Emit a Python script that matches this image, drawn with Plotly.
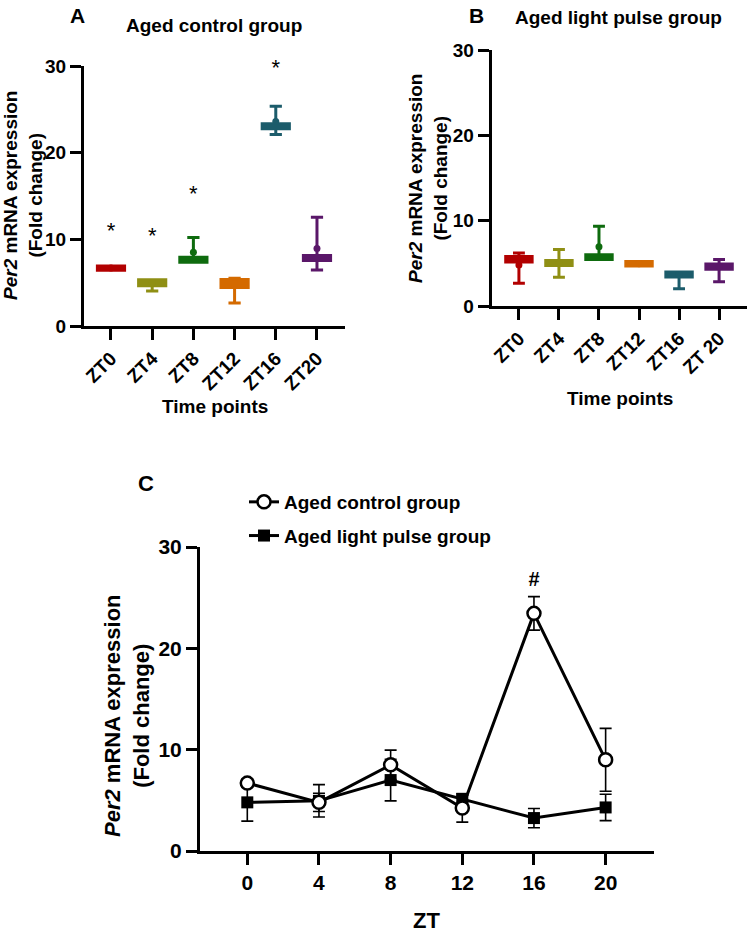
import plotly.graph_objects as go

W, H = 748, 934
FONT = "Arial, Liberation Sans, sans-serif"

# ---------------- data ----------------
colors = ["#B20000", "#8F8F14", "#0E6B0E", "#D46A00", "#1C5C6B", "#5A1769"]

# Panel A: Aged control group (box & whiskers)
a_cats = ["ZT0", "ZT4", "ZT8", "ZT12", "ZT16", "ZT20"]
a_lower = [6.43, 4.04, 7.37, 2.65, 22.1, 6.45]
a_q1 = [6.43, 4.63, 7.37, 4.44, 22.77, 7.57]
a_median = [6.7, 5.0, 7.65, 4.9, 23.05, 7.85]
a_q3 = [6.93, 5.33, 7.93, 5.37, 23.33, 8.13]
a_upper = [6.93, 5.33, 10.2, 5.5, 25.35, 12.55]
a_mean = [6.7, 5.0, 8.5, 4.9, 23.6, 8.95]
a_star_y = [10.8, 10.2, 15.1, None, 29.6, None]

# Panel B: Aged light pulse group
b_cats = ["ZT0", "ZT4", "ZT8", "ZT12", "ZT16", "ZT 20"]
b_lower = [2.66, 3.36, 5.44, 4.7, 2.03, 2.85]
b_q1 = [5.17, 4.74, 5.44, 4.7, 3.41, 4.31]
b_median = [5.5, 5.0, 5.7, 4.95, 3.7, 4.6]
b_q3 = [5.81, 5.33, 6.0, 5.22, 3.97, 4.91]
b_upper = [6.2, 6.63, 9.35, 5.22, 3.97, 5.45]
b_mean = [4.8, 5.0, 6.95, 4.95, 3.7, 4.6]

# Panel C: mean +/- error
zt = [0, 4, 8, 12, 16, 20]
ctrl_mean = [6.7, 4.8, 8.5, 4.25, 23.45, 9.0]
ctrl_err = [0.4, 0.9, 1.45, 1.4, 1.65, 3.1]
light_mean = [4.8, 4.95, 7.0, 5.15, 3.25, 4.3]
light_err = [1.85, 1.6, 2.05, 0.35, 0.95, 1.3]
hash_y = [None, None, None, None, 26.6, None]

fig = go.Figure()

def add_boxes(cats, lo, q1, med, q3, up, mean, xa, ya):
    for i, c in enumerate(cats):
        fig.add_trace(go.Box(
            x=[c], q1=[q1[i]], median=[med[i]], q3=[q3[i]],
            lowerfence=[lo[i]], upperfence=[up[i]],
            width=0.66, whiskerwidth=0.45,
            line=dict(color=colors[i], width=3), fillcolor=colors[i],
            boxpoints=False, showlegend=False, xaxis=xa, yaxis=ya,
        ))
    fig.add_trace(go.Scatter(
        x=cats, y=mean, mode="markers",
        marker=dict(color=colors, size=7, symbol="circle"),
        showlegend=False, xaxis=xa, yaxis=ya, cliponaxis=False,
    ))

add_boxes(a_cats, a_lower, a_q1, a_median, a_q3, a_upper, a_mean, "x", "y")
add_boxes(b_cats, b_lower, b_q1, b_median, b_q3, b_upper, b_mean, "x2", "y2")

fig.add_trace(go.Scatter(
    x=a_cats, y=a_star_y, mode="text", text=["*"] * 6,
    textfont=dict(family=FONT, size=22, color="black"),
    showlegend=False, xaxis="x", yaxis="y", cliponaxis=False,
))

# Panel C
fig.add_trace(go.Scatter(
    x=zt, y=light_mean, mode="lines+markers", name="Aged light pulse group",
    legendgroup="b", legendrank=2,
    line=dict(color="black", width=3),
    marker=dict(symbol="square", size=12, color="black"),
    error_y=dict(type="data", array=light_err, color="black", thickness=1.6, width=6),
    xaxis="x3", yaxis="y3", cliponaxis=False,
))
fig.add_trace(go.Scatter(
    x=zt, y=ctrl_mean, mode="lines+markers", name="Aged control group",
    legendgroup="a", legendrank=1,
    line=dict(color="black", width=3),
    marker=dict(symbol="circle", size=13, color="white",
                line=dict(color="black", width=2.5)),
    error_y=dict(type="data", array=ctrl_err, color="black", thickness=1.6, width=6),
    xaxis="x3", yaxis="y3", cliponaxis=False,
))
fig.add_trace(go.Scatter(
    x=zt, y=hash_y, mode="text", text=["#"] * 6,
    textfont=dict(family=FONT, size=20, color="black", weight="bold"),
    showlegend=False, xaxis="x3", yaxis="y3", cliponaxis=False,
))

def px(x):
    return x / W

def py(y):
    return 1 - y / H

axis_common = dict(showline=True, linewidth=3, linecolor="black", ticks="outside",
                   tickwidth=3, ticklen=11, tickcolor="black", showgrid=False,
                   zeroline=False, mirror=False, automargin=False)
tick_ab = dict(family=FONT, size=19, color="black", weight="bold")
tick_c = dict(family=FONT, size=21, color="black", weight="bold")

fig.update_layout(
    template="none",
    width=W, height=H, margin=dict(l=0, r=0, t=0, b=0, pad=0, autoexpand=False),
    paper_bgcolor="white", plot_bgcolor="white",
    boxmode="overlay",
    font=dict(family=FONT, color="black"),
    xaxis=dict(axis_common, domain=[px(84), px(345)], anchor="y", type="category",
               categoryorder="array", categoryarray=a_cats, range=[-0.655, 5.68],
               tickangle=-45, tickfont=tick_ab),
    yaxis=dict(axis_common, domain=[py(326), py(66)], anchor="x", range=[0, 30],
               tickvals=[0, 10, 20, 30], tickfont=tick_ab),
    xaxis2=dict(axis_common, domain=[px(491.7), px(746.7)], anchor="y2", type="category",
                categoryorder="array", categoryarray=b_cats, range=[-0.68, 5.69],
                tickangle=-45, tickfont=tick_ab),
    yaxis2=dict(axis_common, domain=[py(306), py(50)], anchor="x2", range=[0, 30],
                tickvals=[0, 10, 20, 30], tickfont=tick_ab),
    xaxis3=dict(axis_common, domain=[px(200), px(654)], anchor="y3", range=[-2.64, 22.7],
                tickvals=zt, tickfont=tick_c),
    yaxis3=dict(axis_common, domain=[py(851), py(547)], anchor="x3", range=[0, 30],
                tickvals=[0, 10, 20, 30], tickfont=tick_c),
    legend=dict(x=px(244), y=py(483), xanchor="left", yanchor="top",
                traceorder="grouped", tracegroupgap=6,
                font=dict(family=FONT, size=19, color="black", weight="bold"),
                bgcolor="rgba(0,0,0,0)"),
)

ytitle = "<i>Per2</i> mRNA expression<br>(Fold change)"
annots = [
    dict(text="A", x=px(77), y=py(15), size=21),
    dict(text="B", x=px(476), y=py(15), size=21),
    dict(text="C", x=px(146), y=py(483), size=22),
    dict(text="Aged control group", x=px(214), y=py(26), size=19),
    dict(text="Aged light pulse group", x=px(618), y=py(17), size=19),
    dict(text="Time points", x=px(215), y=py(407), size=19),
    dict(text="Time points", x=px(620), y=py(398), size=19),
    dict(text="ZT", x=px(427), y=py(920), size=22),
    dict(text=ytitle, x=px(23), y=py(196), size=19, angle=-90),
    dict(text=ytitle, x=px(428), y=py(178), size=19, angle=-90),
    dict(text=ytitle, x=px(127), y=py(716), size=22, angle=-90),
]
for a in annots:
    fig.add_annotation(
        text=a["text"], x=a["x"], y=a["y"], xref="paper", yref="paper",
        xanchor="center", yanchor="middle", showarrow=False,
        textangle=a.get("angle", 0),
        font=dict(family=FONT, size=a["size"], color="black", weight="bold"),
    )

# let the 748x934 figure fill the page exactly (no default 8px body margin)
fig.write_html("out.html",
               config={"displayModeBar": False},
               post_script="document.body.style.margin='0';document.body.style.overflow='hidden';")
